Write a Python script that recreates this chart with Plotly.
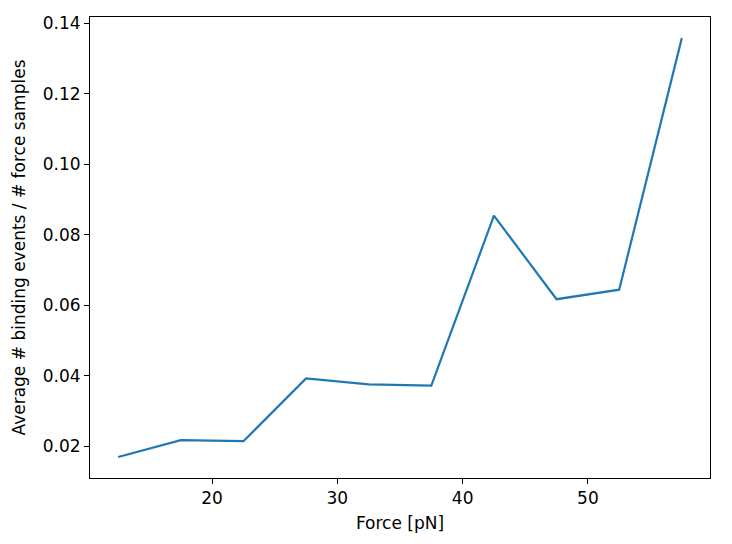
import plotly.graph_objects as go

# Force bins (pN) and average binding events per force sample
force = [12.5, 17.5, 22.5, 27.5, 32.5, 37.5, 42.5, 47.5, 52.5, 57.5]
ratio = [0.0169, 0.0217, 0.0214, 0.0392, 0.0375, 0.0372, 0.0854, 0.0617, 0.0644, 0.1358]

fig = go.Figure()
fig.add_trace(go.Scatter(x=force, y=ratio, mode="lines",
                         line=dict(color="#1f77b4", width=2.2)))

axis_style = dict(showline=True, linecolor="black", linewidth=1, mirror=True,
                  ticks="outside", ticklen=5, tickcolor="black",
                  showgrid=False, zeroline=False,
                  tickfont=dict(size=17, color="black"))

fig.update_xaxes(range=[10.25, 59.75], tickvals=[20, 30, 40, 50],
                 title=dict(text="Force [pN]", font=dict(size=17, color="black"), standoff=9),
                 **axis_style)
fig.update_yaxes(range=[0.01095, 0.1418],
                 tickvals=[0.02, 0.04, 0.06, 0.08, 0.10, 0.12, 0.14],
                 tickformat=".2f",
                 title=dict(text="Average # binding events / # force samples",
                            font=dict(size=17, color="black"), standoff=12),
                 **axis_style)

fig.update_layout(width=732, height=544, showlegend=False,
                  plot_bgcolor="white", paper_bgcolor="white",
                  font=dict(family="DejaVu Sans", color="black"),
                  margin=dict(l=90, r=22, t=17, b=66))
fig.write_html("out.html", config={"displayModeBar": False},
               post_script="document.body.style.margin='0';")
